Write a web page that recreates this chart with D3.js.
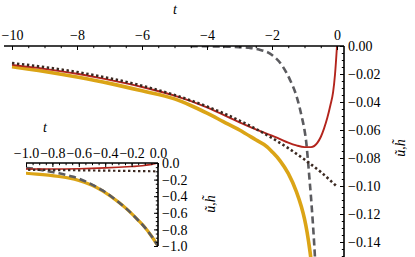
<!DOCTYPE html>
<html><head><meta charset="utf-8">
<script src="https://cdn.jsdelivr.net/npm/d3@7/dist/d3.min.js"></script>
<style>
html,body{margin:0;padding:0;background:#fff;}
svg{display:block;}
svg text{font-family:"Liberation Serif","DejaVu Serif",serif !important;font-size:14px !important;fill:#000;}
</style></head>
<body>
<svg id="chart" width="415" height="257"></svg>
<script>
// ---- data ----
const tRed = [-10,-9,-8,-7,-6,-5,-4,-3,-2.5,-2,-1.75,-1.5,-1.25,-1.0,-0.8,-0.6,-0.5,-0.4,-0.3,-0.2,-0.12,-0.06,0];
const redVals = [-0.0135,-0.0163,-0.0198,-0.0242,-0.0293,-0.0355,-0.0438,-0.0545,-0.0595,-0.0640,-0.0665,-0.0690,-0.0710,-0.0722,-0.0722,-0.0690,-0.0650,-0.0590,-0.0515,-0.0420,-0.0330,-0.0200,0];

const tGray = [-4.5,-4,-3.5,-3,-2.7,-2.4,-2.0,-1.7,-1.45,-1.23,-1.08,-1.0,-0.95,-0.9,-0.85,-0.8,-0.75,-0.7,-0.65,-0.6,-0.5,-0.42,-0.3,-0.24,-0.15,-0.1,-0.05,0];
const grayVals = [-0.0001,-0.0002,-0.0004,-0.0008,-0.0013,-0.0025,-0.0064,-0.0136,-0.024,-0.037,-0.051,-0.06,-0.068,-0.08,-0.094,-0.108,-0.124,-0.142,-0.163,-0.188,-0.26,-0.33,-0.47,-0.55,-0.69,-0.775,-0.88,-1.0];

const tOrange = [-10,-9,-8,-7,-6,-5,-4.5,-4,-3.5,-3,-2.5,-2.15,-2,-1.75,-1.5,-1.25,-1.1,-1.0,-0.92,-0.83,-0.75,-0.67,-0.6,-0.5,-0.42,-0.3,-0.24,-0.15,-0.1,-0.05,0];
const orangeVals = [-0.0148,-0.0182,-0.0222,-0.0267,-0.032,-0.0378,-0.0425,-0.048,-0.054,-0.060,-0.067,-0.072,-0.0755,-0.082,-0.091,-0.104,-0.1145,-0.1235,-0.133,-0.147,-0.163,-0.183,-0.21,-0.268,-0.335,-0.47,-0.55,-0.69,-0.775,-0.88,-1.0];

const tDot = [-10,-9,-8,-7,-6,-5,-4,-3,-2,-1.5,-1,-0.5,0];
const dotVals = [-0.0122,-0.0151,-0.0186,-0.023,-0.0284,-0.035,-0.0432,-0.0533,-0.0657,-0.073,-0.0811,-0.09,-0.1005];

const mainXTicks = [-10,-8,-6,-4,-2,0];
const mainYTicks = [0,-0.02,-0.04,-0.06,-0.08,-0.10,-0.12,-0.14];
const insetXTicks = [-1.0,-0.8,-0.6,-0.4,-0.2,0.0];
const insetYTicks = [0,-0.2,-0.4,-0.6,-0.8,-1.0];

// ---- styles ----
const series = [
  {t:tOrange, v:orangeVals, color:"#dba416", w:3.6, wi:3.2, dash:null},
  {t:tGray,   v:grayVals,   color:"#5b5b5f", w:2.6, wi:2.6, dash:"7,4"},
  {t:tRed,    v:redVals,    color:"#b3241c", w:1.9, wi:1.7, dash:null},
  {t:tDot,    v:dotVals,    color:"#3a2820", w:2.6, wi:2.2, dash:"2.4,2.6"}
];

const FONT = '"Liberation Serif","DejaVu Serif",serif';
const svg = d3.select("#chart");
const fmt = s => s.replace("-", "\u2212");

function panel(cfg){
  const x = d3.scaleLinear().domain(cfg.xd).range(cfg.xr);
  const y = d3.scaleLinear().domain(cfg.yd).range(cfg.yr);
  const g = svg.append("g");
  const clipId = "clip" + cfg.id;
  g.append("clipPath").attr("id", clipId).append("rect")
    .attr("x", cfg.box[0]).attr("y", cfg.box[1])
    .attr("width", cfg.box[2]-cfg.box[0]).attr("height", cfg.box[3]-cfg.box[1]);
  const lines = g.append("g").attr("clip-path", `url(#${clipId})`);
  series.forEach(s => {
    const pts = s.t.map((t,i)=>[t, s.v[i]]);
    lines.append("path")
      .attr("d", d3.line().x(d=>x(d[0])).y(d=>y(d[1])).curve(d3.curveMonotoneX)(pts))
      .attr("fill","none").attr("stroke", s.color)
      .attr("stroke-width", cfg.inset ? s.wi : s.w)
      .attr("stroke-dasharray", s.dash)
      .attr("stroke-linejoin","round");
  });
  const ax = cfg.box[1], ay = cfg.box[2];
  const xAxisMinor = d3.axisTop(x).tickValues(d3.range(cfg.xMinor[0], cfg.xMinor[1]+1e-9, cfg.xMinor[2]))
    .tickSize(-2.2).tickFormat("");
  const xAxisMajor = d3.axisTop(x).tickValues(cfg.xTicks).tickSize(-4).tickPadding(10)
    .tickFormat(cfg.xFmt);
  [xAxisMinor, xAxisMajor].forEach(a => {
    const gg = g.append("g").attr("transform", `translate(0,${ax})`).call(a)
      .attr("font-family", FONT).attr("font-size", 14);
    gg.select(".domain").remove();
    gg.selectAll(".tick line").attr("stroke","#000").attr("stroke-width",1);
    gg.selectAll("text").style("font-family", FONT).attr("fill","#000")
      .attr("y", -(cfg.xLabOff)).attr("dy", 0);
  });
  const yAxisMinor = d3.axisRight(y).tickValues(d3.range(cfg.yMinor[0], cfg.yMinor[1]-1e-9, -cfg.yMinor[2]))
    .tickSize(-2.2).tickFormat("");
  const yAxisMajor = d3.axisRight(y).tickValues(cfg.yTicks).tickSize(-4).tickPadding(0)
    .tickFormat(cfg.yFmt);
  [yAxisMinor, yAxisMajor].forEach(a => {
    const gg = g.append("g").attr("transform", `translate(${ay},0)`).call(a)
      .attr("font-family", FONT).attr("font-size", 14);
    gg.select(".domain").remove();
    gg.selectAll(".tick line").attr("stroke","#000").attr("stroke-width",1);
    gg.selectAll("text").style("font-family", FONT).attr("fill","#000")
      .attr("x", cfg.yLabOff).attr("dy","0.34em");
  });
  g.append("line").attr("x1",cfg.box[0]).attr("x2",cfg.box[2]).attr("y1",ax).attr("y2",ax)
    .attr("stroke","#000").attr("stroke-width",1.6);
  g.append("line").attr("x1",ay).attr("x2",ay).attr("y1",ax).attr("y2",cfg.box[3])
    .attr("stroke","#000").attr("stroke-width",1.6);
  g.append("text").attr("x",cfg.tPos[0]).attr("y",cfg.tPos[1]).attr("text-anchor","middle")
    .style("font-family", FONT).attr("font-style","italic").text("t");
  g.append("text").attr("transform",`translate(${cfg.yPos[0]},${cfg.yPos[1]}) rotate(-90)`)
    .style("font-family", FONT).attr("text-anchor","middle").attr("font-style","italic").text("\u0169,h\u0303");
}

panel({
  id:"main", inset:false,
  xd:[-10,0], xr:[12,337],
  yd:[0,-0.14], yr:[46,242],
  box:[4,46,344,257],
  xTicks: mainXTicks, xMinor:[-10,0,0.5],
  yTicks: mainYTicks, yMinor:[0,-0.15,0.005],
  xFmt: d => fmt(String(d)),
  yFmt: d => fmt(d3.format(".2f")(d)),
  xLabOff: 6, yLabOff: 4,
  tPos:[175,14], yPos:[405,148]
});

panel({
  id:"inset", inset:true,
  xd:[-1,0], xr:[26,158],
  yd:[0,-1], yr:[163,246],
  box:[26,163,158,246],
  xTicks: insetXTicks, xMinor:[-1,0,0.05],
  yTicks: insetYTicks, yMinor:[0,-1.0,0.05],
  xFmt: d => fmt(d3.format(".1f")(d)),
  yFmt: d => fmt(d3.format(".1f")(d)),
  xLabOff: 5, yLabOff: 4,
  tPos:[45,132], yPos:[215,204]
});
</script>
</body></html>
